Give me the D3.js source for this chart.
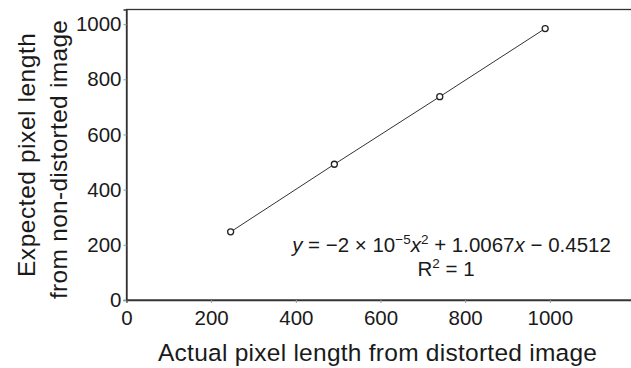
<!DOCTYPE html>
<html><head><meta charset="utf-8">
<script src="https://cdn.jsdelivr.net/npm/d3@7"></script>
<style>
body{margin:0;background:#fff;}
svg{display:block;font-family:"Liberation Sans",Arial,sans-serif;}
</style></head>
<body>
<svg id="c" width="631" height="368"></svg>
<script>
const actual = [246, 491, 740, 989];
const expected = [247, 492, 737, 984];
const xTicks = [0, 200, 400, 600, 800, 1000];
const yTicks = [0, 200, 400, 600, 800, 1000];
const xTitle = "Actual pixel length from distorted image";
const yTitle = ["Expected pixel length", "from non-distorted image"];

const svg = d3.select("#c");
const x = d3.scaleLinear().domain([0, 1200]).range([126.5, 634.5]);
const y = d3.scaleLinear().domain([0, 1053]).range([300, 9.5]);
const ink = "#333";

// frame
svg.append("rect").attr("x", x(0)).attr("y", y(1053)).attr("width", x(1200) - x(0)).attr("height", y(0) - y(1053))
  .attr("fill", "none").attr("stroke", ink).attr("stroke-width", 1.3);

const xa = svg.append("g").attr("transform", `translate(0,${y(0)})`)
  .call(d3.axisBottom(x).tickValues(xTicks).tickSize(3).tickPadding(6).tickFormat(d3.format("d")));
const ya = svg.append("g").attr("transform", `translate(${x(0)},0)`)
  .call(d3.axisLeft(y).tickValues(yTicks).tickSize(3).tickPadding(2).tickFormat(d3.format("d")));
[xa, ya].forEach(g => {
  g.select(".domain").attr("stroke", ink).attr("stroke-width", 1.3);
  g.selectAll(".tick line").attr("stroke", "#999").attr("stroke-width", 1);
  g.selectAll(".tick text").attr("font-size", 20.5).attr("fill", "#1a1a1a").attr("font-family", "Liberation Sans, Arial, sans-serif");
});
xa.selectAll(".tick text").attr("dy", "0.76em");

// line
const pts = actual.map((a, i) => [a, expected[i]]);
svg.append("path").datum(pts)
  .attr("d", d3.line().x(d => x(d[0])).y(d => y(d[1])))
  .attr("fill", "none").attr("stroke", "#333").attr("stroke-width", 1);
svg.selectAll("circle.p").data(pts).join("circle").attr("class", "p")
  .attr("cx", d => x(d[0])).attr("cy", d => y(d[1])).attr("r", 3)
  .attr("fill", "#fff").attr("stroke", "#222").attr("stroke-width", 1.3);

// equation
const eq = svg.append("text").attr("x", 451.5).attr("y", 251.5).attr("text-anchor", "middle")
  .attr("font-size", 20.5).attr("fill", "#1a1a1a");
eq.append("tspan").attr("font-style", "italic").text("y");
eq.append("tspan").text(" = \u22122 \u00d7 10");
eq.append("tspan").attr("dy", -8).attr("font-size", 13.5).text("\u22125");
eq.append("tspan").attr("dy", 8).attr("font-style", "italic").text("x");
eq.append("tspan").attr("dy", -8).attr("font-size", 13.5).text("2");
eq.append("tspan").attr("dy", 8).text(" + 1.0067");
eq.append("tspan").attr("font-style", "italic").text("x");
eq.append("tspan").text(" \u2212 0.4512");

const r2 = svg.append("text").attr("x", 446).attr("y", 275.5).attr("text-anchor", "middle")
  .attr("font-size", 20.5).attr("fill", "#1a1a1a");
r2.append("tspan").text("R");
r2.append("tspan").attr("dy", -8).attr("font-size", 13.5).text("2");
r2.append("tspan").attr("dy", 8).text(" = 1");

// axis titles
svg.append("text").attr("x", 158).attr("y", 361).attr("textLength", 439)
  .attr("font-size", 24.5).attr("fill", "#1a1a1a").text(xTitle);
svg.append("text").attr("transform", "translate(34.5,277) rotate(-90)").attr("textLength", 244)
  .attr("font-size", 24.5).attr("fill", "#1a1a1a").text(yTitle[0]);
svg.append("text").attr("transform", "translate(66.5,299) rotate(-90)").attr("textLength", 279)
  .attr("font-size", 24.5).attr("fill", "#1a1a1a").text(yTitle[1]);
</script>
</body></html>
